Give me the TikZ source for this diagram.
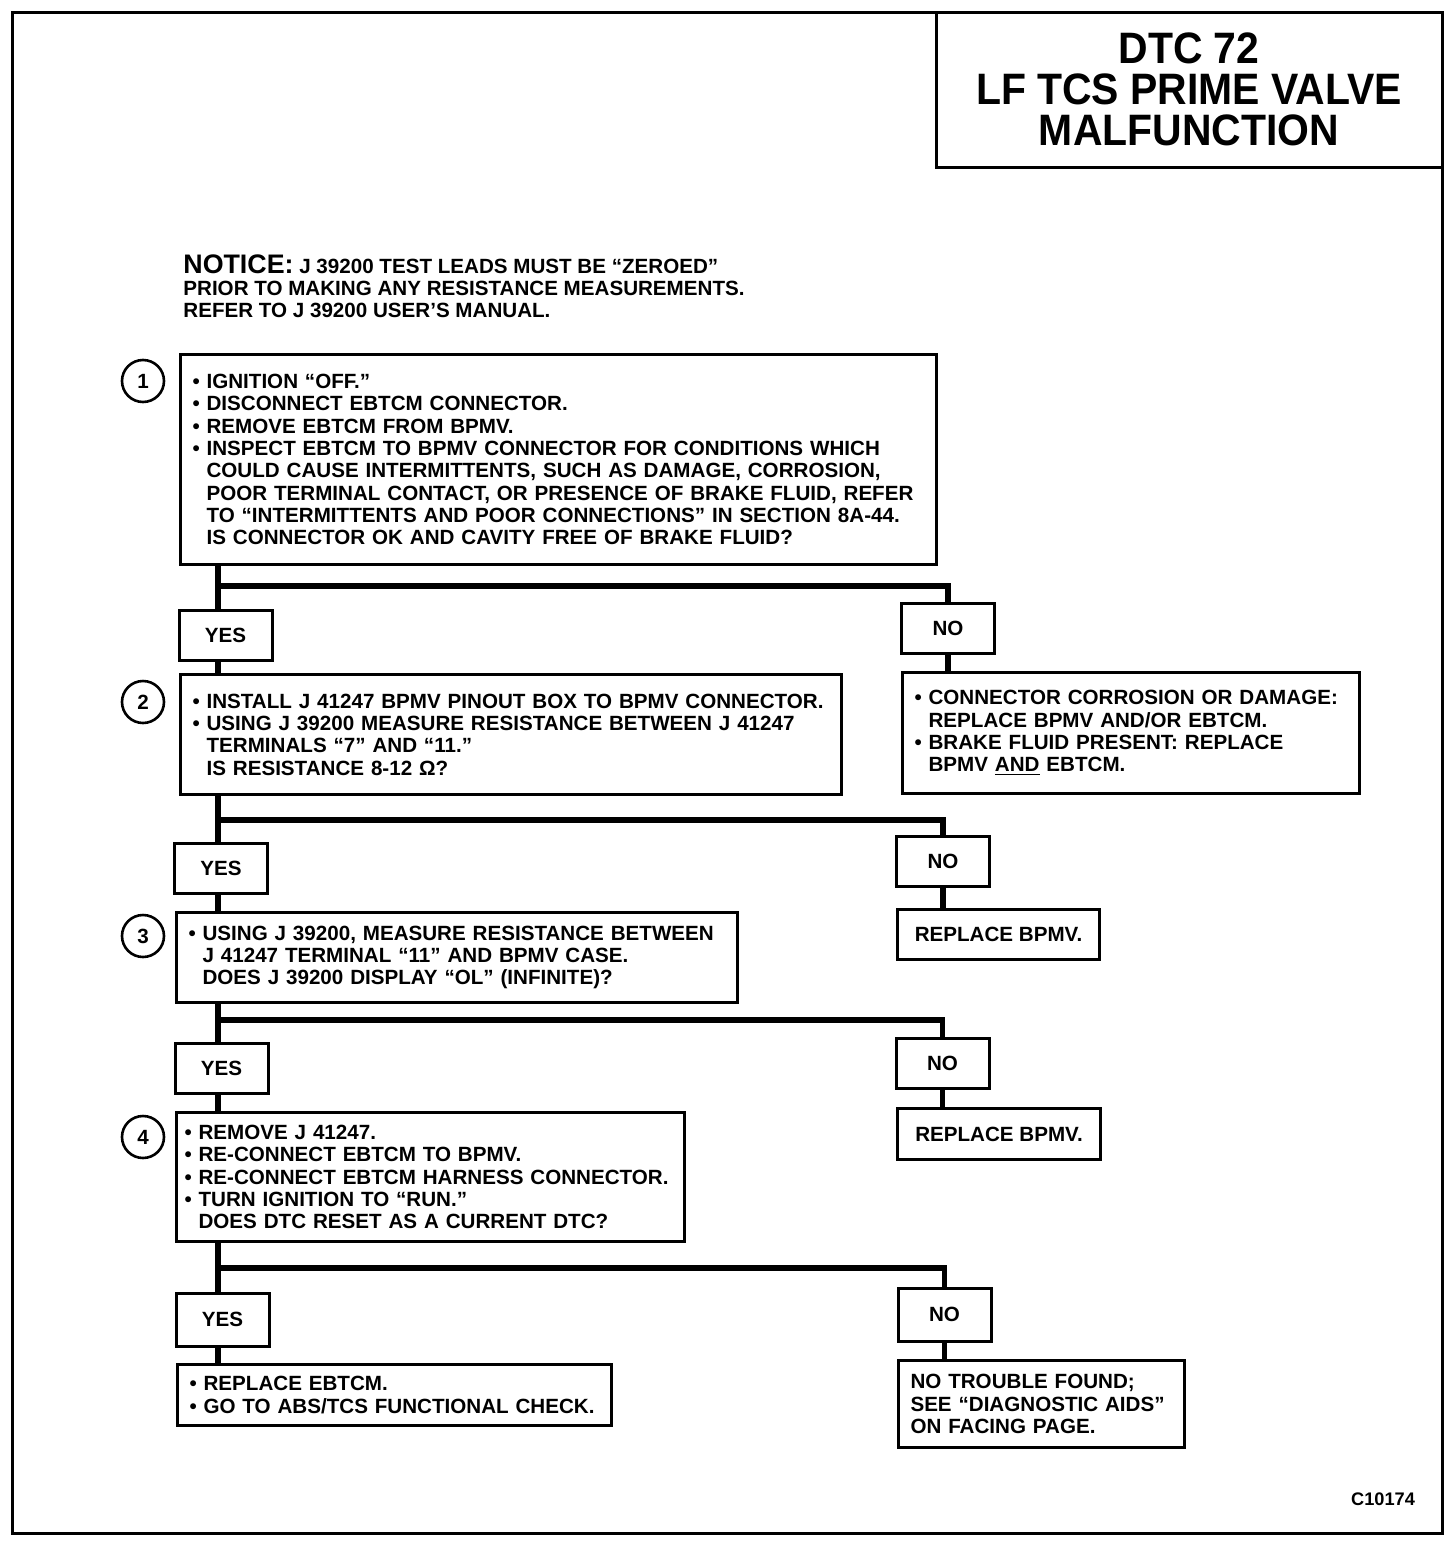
\documentclass[tikz,border=0pt]{standalone}
\usepackage{fontspec}
\setmainfont{Liberation Sans}
\newfontfamily\titlefont{Liberation Sans}[FakeStretch=0.93]
\usepackage{tikz}
\hyphenpenalty=10000
\exhyphenpenalty=10000
\newcommand\stepbul{\textbullet\ }
\newcommand\stepind{\phantom{\textbullet\ }}

\begin{document}
\begin{tikzpicture}[x=0.5pt, y=-0.5pt,
  font=\bfseries\fontsize{10.3}{11.15}\selectfont,
  stepbox/.style={draw, line width=1.5pt, anchor=north west, align=left,
    inner xsep=6pt, inner ysep=0pt},
  ans/.style={draw, line width=1.5pt, minimum width=46.5pt,
    minimum height=25pt, inner sep=0pt},
  num/.style={draw, circle, line width=1.3pt, minimum size=21pt, inner sep=0pt},
  flow/.style={line width=2.6pt}]
  \useasboundingbox (0,0) rectangle (1456,1542);
  \draw[line width=1.5pt] (12,12) rectangle (1442,1533);
  \node[draw, line width=1.5pt, minimum width=253pt, minimum height=77.5pt,
    align=center, font=\titlefont\bfseries\fontsize{22}{20.5}\selectfont]
    (title) at (1189,89.5) {DTC 72\\LF TCS PRIME VALVE\\MALFUNCTION};
  \node[anchor=north west, align=left, inner sep=0pt] (notice) at (183,254)
    {{\fontsize{13.4}{11.15}\selectfont NOTICE:} J 39200 TEST LEADS MUST BE “ZEROED”\\
     PRIOR TO MAKING ANY RESISTANCE MEASUREMENTS.\\
     REFER TO J 39200 USER'S MANUAL.};

  \node[stepbox, text width=366pt, minimum height=105pt] (s1) at (179,353)
    {\stepbul IGNITION “OFF.”\\
     \stepbul DISCONNECT EBTCM CONNECTOR.\\
     \stepbul REMOVE EBTCM FROM BPMV.\\
     \stepbul INSPECT EBTCM TO BPMV CONNECTOR FOR CONDITIONS WHICH\\
     \stepind COULD CAUSE INTERMITTENTS, SUCH AS DAMAGE, CORROSION,\\
     \stepind POOR TERMINAL CONTACT, OR PRESENCE OF BRAKE FLUID, REFER\\
     \stepind TO “INTERMITTENTS AND POOR CONNECTIONS” IN SECTION 8A-44.\\
     \stepind IS CONNECTOR OK AND CAVITY FREE OF BRAKE FLUID?};
  \node[num] (c1) at (143,381) {1};
  \node[ans] (y1) at (225.5,635) {YES};
  \node[ans] (n1) at (948,628.5) {NO};

  \node[stepbox, text width=318.5pt, minimum height=60pt] (s2) at (179,673)
    {\stepbul INSTALL J 41247 BPMV PINOUT BOX TO BPMV CONNECTOR.\\
     \stepbul USING J 39200 MEASURE RESISTANCE BETWEEN J 41247\\
     \stepind TERMINALS “7” AND “11.”\\
     \stepind IS RESISTANCE 8-12 Ω?};
  \node[num] (c2) at (143,702) {2};
  \node[stepbox, text width=216.5pt, minimum height=60.5pt] (r1) at (901,671)
    {\stepbul CONNECTOR CORROSION OR DAMAGE:\\
     \stepind REPLACE BPMV AND/OR EBTCM.\\
     \stepbul BRAKE FLUID PRESENT: REPLACE\\
     \stepind BPMV \underline{AND} EBTCM.};
  \node[ans] (y2) at (221,868) {YES};
  \node[ans] (n2) at (943,861.5) {NO};

  \node[stepbox, text width=268.5pt, minimum height=45pt] (s3) at (175,911)
    {\stepbul USING J 39200, MEASURE RESISTANCE BETWEEN\\
     \stepind J 41247 TERMINAL “11” AND BPMV CASE.\\
     \stepind DOES J 39200 DISPLAY “OL” (INFINITE)?};
  \node[num] (c3) at (143,936) {3};
  \node[stepbox, align=center, minimum width=101pt, minimum height=25pt] (r2)
    at (896,908) {REPLACE BPMV.};
  \node[ans] (y3) at (221.5,1068) {YES};
  \node[ans] (n3) at (942.5,1063) {NO};

  \node[stepbox, inner xsep=4pt, text width=246pt, minimum height=64.5pt] (s4)
    at (175,1111)
    {\stepbul REMOVE J 41247.\\
     \stepbul RE-CONNECT EBTCM TO BPMV.\\
     \stepbul RE-CONNECT EBTCM HARNESS CONNECTOR.\\
     \stepbul TURN IGNITION TO “RUN.”\\
     \stepind DOES DTC RESET AS A CURRENT DTC?};
  \node[num] (c4) at (143,1137) {4};
  \node[stepbox, align=center, minimum width=101.5pt, minimum height=25.5pt] (r3)
    at (896,1107) {REPLACE BPMV.};
  \node[ans, minimum height=26.5pt] (y4) at (222.5,1319.5) {YES};
  \node[ans, minimum height=26.5pt] (n4) at (944.5,1314.5) {NO};

  \node[stepbox, text width=205pt, minimum height=30.5pt] (r4) at (176,1363)
    {\stepbul REPLACE EBTCM.\\
     \stepbul GO TO ABS/TCS FUNCTIONAL CHECK.};
  \node[stepbox, text width=131pt, minimum height=43.5pt] (r5) at (897,1359)
    {NO TROUBLE FOUND;\\
     SEE “DIAGNOSTIC AIDS”\\
     ON FACING PAGE.};
  \node[anchor=base east, font=\bfseries\fontsize{9.1}{10}\selectfont] (fig)
    at (1422,1505) {C10174};

  \coordinate (j1) at (218,586);
  \coordinate (j2) at (218,820);
  \coordinate (j3) at (218,1020);
  \coordinate (j4) at (218,1268);
  \draw[flow] (s1.south -| j1) -- (y1.north -| j1);
  \draw[flow] (j1) -| (n1.north);
  \draw[flow] (y1.south -| j1) -- (s2.north -| j1);
  \draw[flow] (n1.south) -- (r1.north -| n1.south);
  \draw[flow] (s2.south -| j2) -- (y2.north -| j2);
  \draw[flow] (j2) -| (n2.north);
  \draw[flow] (y2.south -| j2) -- (s3.north -| j2);
  \draw[flow] (n2.south) -- (r2.north -| n2.south);
  \draw[flow] (s3.south -| j3) -- (y3.north -| j3);
  \draw[flow] (j3) -| (n3.north);
  \draw[flow] (y3.south -| j3) -- (s4.north -| j3);
  \draw[flow] (n3.south) -- (r3.north -| n3.south);
  \draw[flow] (s4.south -| j4) -- (y4.north -| j4);
  \draw[flow] (j4) -| (n4.north);
  \draw[flow] (y4.south -| j4) -- (r4.north -| j4);
  \draw[flow] (n4.south) -- (r5.north -| n4.south);
\end{tikzpicture}
\end{document}
